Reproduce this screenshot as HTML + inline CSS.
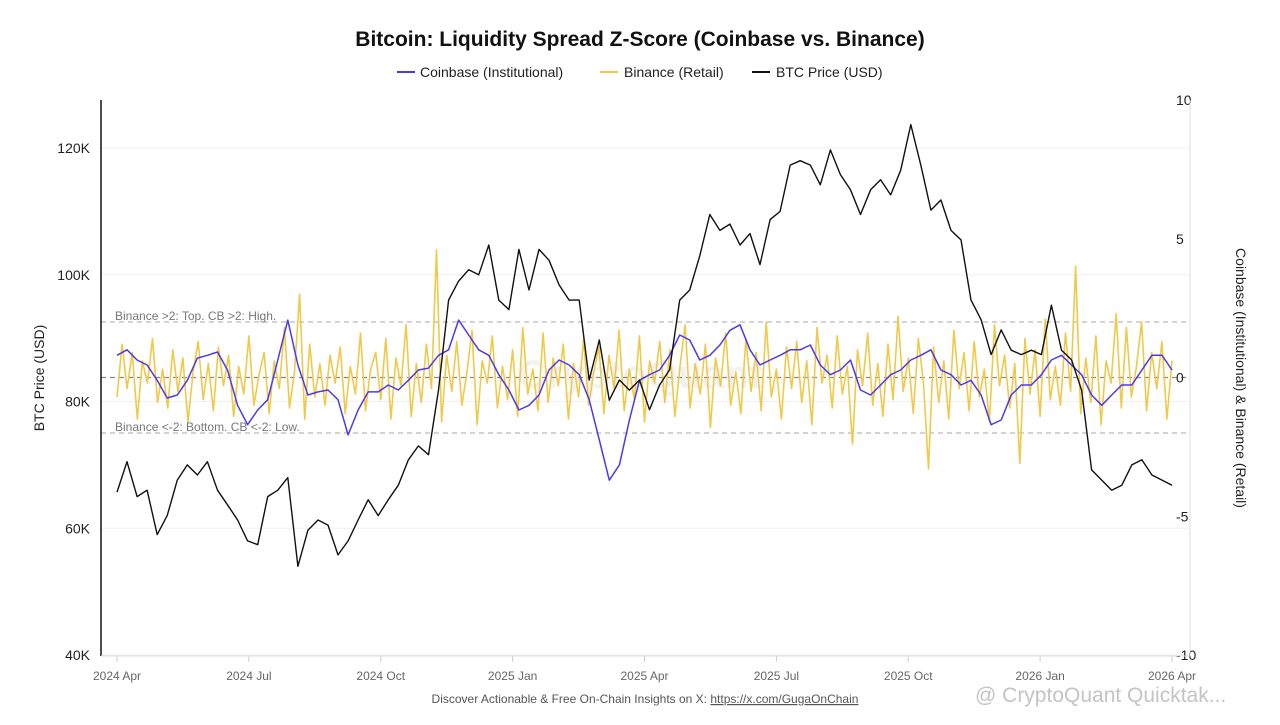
<!DOCTYPE html>
<html><head><meta charset="utf-8"><style>
body{margin:0;background:#fff;font-family:"Liberation Sans",sans-serif}
svg text{font-family:"Liberation Sans",sans-serif}
</style></head><body>
<svg id="chart" width="1280" height="720">
<text x="640" y="46" text-anchor="middle" font-size="21" font-weight="bold" fill="#111">Bitcoin: Liquidity Spread Z-Score (Coinbase vs. Binance)</text>
<g font-size="14" fill="#222">
<g><line x1="397" y1="72" x2="415" y2="72" stroke="#4a3bea" stroke-width="2"/><text x="420" y="77">Coinbase (Institutional)</text></g>
<g><line x1="600" y1="72" x2="618" y2="72" stroke="#f0c94a" stroke-width="2"/><text x="624" y="77">Binance (Retail)</text></g>
<g><line x1="752" y1="72" x2="770" y2="72" stroke="#111" stroke-width="2"/><text x="776" y="77">BTC Price (USD)</text></g>
</g>
<text x="640" y="388" text-anchor="middle" font-size="40" font-weight="bold" fill="#000" opacity="0.05">CryptoQuant</text>
<g id="grid"></g><g id="axes"></g><g id="series"></g>
<text x="44" y="378" transform="rotate(-90 44 378)" text-anchor="middle" font-size="14" fill="#222">BTC Price (USD)</text>
<text x="1236" y="378" transform="rotate(90 1236 378)" text-anchor="middle" font-size="14" fill="#222">Coinbase (Institutional) &amp; Binance (Retail)</text>
<text x="115" y="320" font-size="12" fill="#777">Binance &gt;2: Top. CB &gt;2: High.</text>
<text x="115" y="431" font-size="12" fill="#777">Binance &lt;-2: Bottom. CB &lt;-2: Low.</text>
<text x="645" y="703" text-anchor="middle" font-size="12" fill="#555">Discover Actionable &amp; Free On-Chain Insights on X: <tspan text-decoration="underline">https://x.com/GugaOnChain</tspan></text>
<text x="975" y="702" font-size="21" fill="#c4c4c4">@ CryptoQuant Quicktak...</text>
</svg>
<script>
const xTickLabels=["2024 Apr","2024 Jul","2024 Oct","2025 Jan","2025 Apr","2025 Jul","2025 Oct","2026 Jan","2026 Apr"];
const priceTicks=[40,60,80,100,120];
const zTicks=[10,5,0,-5,-10];
const btcPrice=[65.7,70.5,65,66,59,62,67.6,70,68.4,70.5,66,63.7,61.3,58,57.4,65,66,68,54,59.7,61.3,60.5,55.8,58,61.3,64.5,62,64.5,66.8,70.8,73,71.6,81.8,96,99,100.8,100,104.7,96,94.5,104,97.6,104,102.3,98.4,96,96,83.4,89.7,80.2,83.4,81.8,83.4,78.7,82.6,85,96,97.6,103,109.5,107,108,104.7,106.5,101.6,108.7,110,117.3,118,117.3,114.2,119.7,115.8,113.4,109.5,113.4,115,112.6,116.5,123.7,117.3,110.2,111.8,107,105.5,96,92.9,87.4,91.3,88.1,87.4,88.1,87.4,95.2,88.1,86.6,81.8,69.2,67.6,66,66.8,70,70.8,68.4,67.6,66.8];
const coinbase=[0.8,1.0,0.63,0.45,-0.1,-0.74,-0.63,-0.1,0.7,0.8,0.92,0.27,-1.0,-1.7,-1.17,-0.8,0.63,2.07,0.45,-0.63,-0.52,-0.45,-0.8,-2.07,-1.17,-0.52,-0.52,-0.27,-0.45,-0.1,0.27,0.34,0.8,1.0,2.07,1.53,1.0,0.8,0.1,-0.45,-1.17,-1.0,-0.63,0.27,0.63,0.45,0.1,-0.8,-2.25,-3.7,-3.15,-1.53,-0.1,0.1,0.27,0.8,1.53,1.35,0.63,0.8,1.17,1.7,1.9,1.0,0.45,0.63,0.8,1.0,1.0,1.17,0.45,0.1,0.27,0.63,-0.45,-0.63,-0.27,0.1,0.27,0.63,0.8,1.0,0.27,0.1,-0.27,-0.1,-0.63,-1.7,-1.53,-0.63,-0.27,-0.27,0.1,0.63,0.8,0.45,0.1,-0.63,-1.0,-0.63,-0.27,-0.27,0.27,0.8,0.8,0.27];
const binance=[-0.7,1.2,-0.4,0.9,-1.5,0.6,-0.2,1.4,-0.9,0.3,-1.1,1.0,-0.5,0.7,-1.6,0.2,1.3,-0.8,0.5,-1.2,1.1,-0.3,0.8,-1.4,0.4,-0.6,1.5,-1.0,0.1,0.9,-1.3,0.6,-0.4,1.8,-1.1,0.2,3.0,-1.5,1.2,-0.7,0.5,-1.0,0.8,-0.2,1.1,-1.3,0.4,-0.6,1.6,-1.2,0.3,0.9,-0.8,1.4,-1.5,0.7,-0.3,1.9,-1.4,0.5,-0.9,1.2,-0.4,4.6,-1.6,0.8,-0.5,1.3,-1.0,0.2,1.7,-1.7,0.6,-0.2,1.5,-1.1,0.4,-0.8,1.0,-1.4,1.8,-0.6,0.3,-1.2,1.6,-0.9,0.7,-0.3,1.2,-1.5,0.5,-0.7,1.4,-1.0,0.2,1.1,-1.3,0.8,-0.4,1.7,-1.2,0.3,-0.8,1.5,-1.6,0.6,-0.2,1.3,-0.9,1.0,-1.4,0.4,1.9,-1.1,0.5,-0.6,1.2,-1.8,0.7,-0.3,1.6,-1.0,0.2,-1.3,1.4,-0.5,0.9,-1.2,2.0,-0.7,0.3,-1.5,1.1,-0.4,1.3,-0.9,0.6,-1.7,1.8,-0.2,0.8,-1.1,1.5,-0.6,0.4,-2.4,1.0,-0.3,1.6,-1.0,0.5,-1.4,1.2,-0.8,2.2,-0.5,0.7,-1.3,1.4,-0.2,-3.3,1.1,-0.9,0.6,-1.5,1.7,-0.4,0.9,-1.2,1.3,-0.7,0.3,-1.6,1.9,-0.3,0.8,-1.1,0.5,-3.1,1.4,-0.6,1.0,-1.4,2.1,-0.8,0.4,-1.0,1.6,-0.5,4.0,-1.3,0.7,-0.9,1.5,-1.7,0.6,-0.2,2.3,-1.1,1.8,-0.7,0.4,2.0,-1.2,0.9,-0.4,1.3,-1.5,0.6];
const NS='http://www.w3.org/2000/svg';
const L=101,R=1190,T=100,B=656;
const x0=117,x1=1172;
const xIdx=(i,n)=>x0+(x1-x0)*i/(n-1);
const yPrice=v=>655-(v-40)*(655-148)/80;
const yZ=v=>377.5-v*(655-100)/20;
function mk(tag,attrs,parent){const e=document.createElementNS(NS,tag);for(const k in attrs)e.setAttribute(k,attrs[k]);parent.appendChild(e);return e;}
const grid=document.getElementById('grid'),axes=document.getElementById('axes'),series=document.getElementById('series');
priceTicks.forEach(p=>{
 const g=mk('line',{x1:L,x2:R,y1:yPrice(p),y2:yPrice(p),stroke:'#f0f0f0'},grid);
 
 
 const t=mk('text',{x:90,y:yPrice(p)+5,'text-anchor':'end','font-size':14,fill:'#222'},axes);
 t.textContent=p+'K';
 
 
});
zTicks.forEach(z=>{
 const t=mk('text',{x:1176,y:yZ(z)+5,'font-size':14,fill:'#222'},axes);
 t.textContent=z;
 
 
});
xTickLabels.forEach((s,i)=>{
 const x=x0+(x1-x0)*i/8;
 mk('line',{x1:x,x2:x,y1:B,y2:B+6,stroke:'#ccc'},axes);
 const t=mk('text',{x:x,y:680,'text-anchor':'middle','font-size':12,fill:'#666'},axes);
 t.textContent=s;
 
 
});
mk('line',{x1:L,x2:L,y1:T,y2:B,stroke:'#111','stroke-width':1.5},axes);
mk('line',{x1:R,x2:R,y1:T,y2:B,stroke:'#ddd'},axes);
mk('line',{x1:L,x2:R,y1:B,y2:B,stroke:'#ddd'},axes);
[2,0,-2].forEach(z=>{
 const d=mk('line',{x1:L,x2:R,y1:yZ(z),y2:yZ(z),stroke:z==0?'#888':'#bbb','stroke-dasharray':'5,4','stroke-width':1.2},grid);
 
 
});
function path(arr,yf,color,w,name){
 const d=arr.map((v,i)=>(i?'L':'M')+xIdx(i,arr.length).toFixed(1)+' '+yf(v).toFixed(1)).join('');
 const p=mk('path',{d:d,fill:'none',stroke:color,'stroke-width':w,'stroke-linejoin':'round'},series);
 
 
}
path(binance,yZ,'#f0c94a',1.6,'binance-line');
path(coinbase,yZ,'#4a3bea',1.5,'coinbase-line');
path(btcPrice,yPrice,'#111',1.4,'btc-price-line');
</script>
</body></html>
